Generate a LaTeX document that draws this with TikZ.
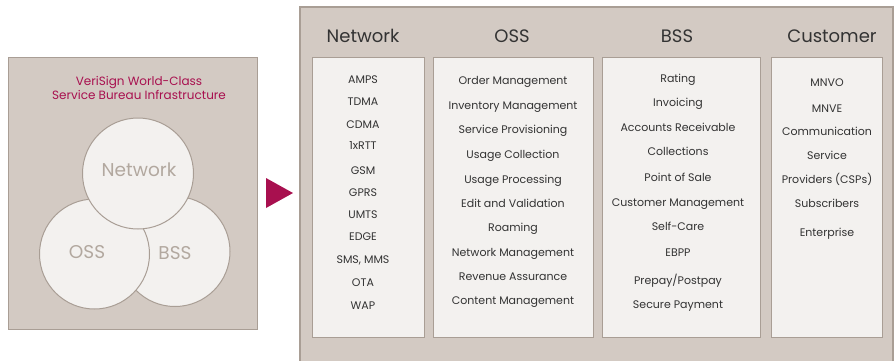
\documentclass[tikz,border=0pt]{standalone}
\usepackage{fontspec}
\setmainfont{Poppins}
\usepackage{tikz}

\definecolor{taupe}{HTML}{D3CAC3}
\definecolor{edge}{HTML}{A99E95}
\definecolor{paper}{HTML}{F3F1EF}
\definecolor{crimson}{HTML}{A8104F}
\definecolor{ink}{HTML}{333333}
\definecolor{mist}{HTML}{B2A89F}

\begin{document}
\begin{tikzpicture}[x=1pt,y=-1pt,
panel/.style={draw=edge,fill=taupe},
column/.style={draw=edge,line width=1pt,fill=paper},
ring/.style={draw=edge,line width=1pt,fill=paper},
head/.style={text=ink,text height=13pt,text depth=0pt,font=\fontsize{18}{20}\selectfont},
item/.style={text=ink,text height=8pt,text depth=0pt,font=\fontsize{11}{13}\selectfont},
ringtext/.style={text=mist,font=\fontsize{18.5}{20}\selectfont}]
\useasboundingbox (0,0) rectangle (894,360);
% left: service bureau
\draw[panel,line width=1pt] (8,57) rectangle (257,329);
\node[text=crimson,align=center,font=\fontsize{12}{13.5}\selectfont] (title) at (139,88) {VeriSign World-Class\\Service Bureau Infrastructure};
\draw[ring] (175,251.5) circle (55);
\draw[ring] (94.5,254) circle (55);
\draw[ring] (138,173.5) circle (55.5);
\node[ringtext] (rnet) at (139,170) {Network};
\node[ringtext] (ross) at (87,252) {OSS};
\node[ringtext] (rbss) at (175,253) {BSS};
% arrow
\fill[crimson] (266,178) -- (293,193) -- (266,208) -- cycle;
% right: functions
\draw[panel,line width=1.6pt] (300,7) rectangle (893,372);
\draw[column] (312,57) rectangle (424,337);
\draw[column] (433,57) rectangle (593,337);
\draw[column] (602,57) rectangle (760,337);
\draw[column] (771,57) rectangle (882,337);
\node[head] (hnet) at (363,36) {Network};
\node[head] (hoss) at (512,36) {OSS};
\node[head] (hbss) at (677,36) {BSS};
\node[head] (hcus) at (832,36) {Customer};
\foreach \y/\t [count=\i] in {79/AMPS,101/TDMA,124/CDMA,145/1xRTT,170/GSM,192/GPRS,214/UMTS,236/EDGE,259/{SMS, MMS},282/OTA,305/WAP}
  \node[item] (net\i) at (363,\y) {\t};
\foreach \y/\t [count=\i] in {80/Order Management,105/Inventory Management,129/Service Provisioning,154/Usage Collection,179/Usage Processing,203/Edit and Validation,227/Roaming,252/Network Management,276/Revenue Assurance,300/Content Management}
  \node[item] (oss\i) at (513,\y) {\t};
\foreach \y/\t [count=\i] in {78/Rating,102/Invoicing,127/Accounts Receivable,151/Collections,177/Point of Sale,202/Customer Management,226/Self-Care,252/EBPP,280/{Prepay/Postpay},304/Secure Payment}
  \node[item] (bss\i) at (678,\y) {\t};
\foreach \y/\t [count=\i] in {82/MNVO,108/MNVE,131/Communication,155/Service,179/Providers (CSPs),203/Subscribers,232/Enterprise}
  \node[item] (cus\i) at (827,\y) {\t};
\end{tikzpicture}
\end{document}
